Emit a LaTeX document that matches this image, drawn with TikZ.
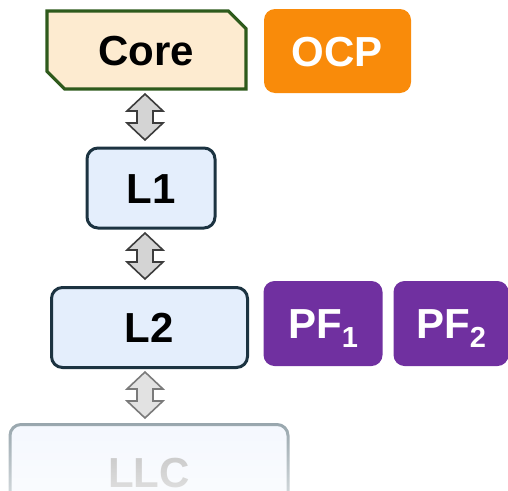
\documentclass[tikz,border=0pt]{standalone}
\usepackage{fontspec}
\setmainfont{Liberation Sans}
\usetikzlibrary{shapes.misc,fadings}

\definecolor{corefill}{HTML}{FDEBD0}
\definecolor{coreline}{HTML}{2E5A1C}
\definecolor{ocpfill}{HTML}{F98B0A}
\definecolor{cachefill}{HTML}{E4EEFC}
\definecolor{cacheline}{HTML}{1C3341}
\definecolor{pffill}{HTML}{7030A0}
\definecolor{llcfill}{HTML}{F3F7FE}
\definecolor{llcline}{HTML}{8A9AA2}
\definecolor{llctext}{HTML}{B0B0B0}
\definecolor{arrfill}{HTML}{D4D4D4}
\definecolor{arrline}{HTML}{3C3C3C}
\definecolor{arrfillpale}{HTML}{E2E2E2}
\definecolor{arrlinepale}{HTML}{7A7A7A}

\tikzfading[name=fadedown, top color=transparent!100, bottom color=transparent!10]

\tikzset{
  label font/.style={font=\bfseries\fontsize{42}{48}\selectfont,
    text height=30pt, text depth=0pt},
  corebox/.style={shape=chamfered rectangle,
    chamfered rectangle corners={north east,south west},
    chamfered rectangle xsep=14pt,
    draw=coreline, fill=corefill, line width=3.2pt,
    minimum width=199pt, minimum height=78pt, inner sep=0pt, label font},
  cachebox/.style={draw=cacheline, fill=cachefill, line width=3pt,
    rounded corners=11pt, inner sep=0pt, label font},
  tagbox/.style={rounded corners=11pt, inner sep=0pt, text=white, label font},
  blockarr/.style={fill=arrfill, draw=arrline, line width=1.6pt, line join=miter},
  blockarrpale/.style={fill=arrfillpale, draw=arrlinepale, line width=1.6pt, line join=miter},
}

% subscript index in the prefetcher labels
\newcommand\pfidx[1]{\raisebox{-9pt}{\fontsize{29}{29}\selectfont #1}}

% up/down block arrow hanging from its top tip
\newcommand\linkarrow[2]{%
  \draw[#1] (#2) -- ++(18,17) -- ++(-10,0) -- ++(0,12) -- ++(10,0)
    -- ++(-18,17) -- ++(-18,-17) -- ++(10,0) -- ++(0,-12) -- ++(-10,0) -- cycle;}

\begin{document}
\begin{tikzpicture}[x=1pt,y=-1pt]
\useasboundingbox (0,0) rectangle (508,490);
\clip (0,0) rectangle (508,490);

% core and its companion unit
\node[corebox] (core) at (146.5,50) {Core};
\node[tagbox, fill=ocpfill, minimum width=147pt, minimum height=84pt] (ocp) at (337.5,51) {OCP};

% private caches
\node[cachebox, minimum width=128pt, minimum height=80pt] (l1) at (151,188) {L1};
\node[cachebox, minimum width=196pt, minimum height=80pt] (l2) at (149.5,327.5) {L2};

% prefetchers beside L2
\node[tagbox, fill=pffill, minimum width=119pt, minimum height=85pt] (pf1) at (323,323.5)
  {PF\pfidx{1}};
\node[tagbox, fill=pffill, minimum width=115pt, minimum height=85pt] (pf2) at (451,323.5)
  {PF\pfidx{2}};

% shared last-level cache, fading out below
\node[cachebox, draw=llcline, fill=llcfill,
      minimum width=278pt, minimum height=120pt, anchor=north] (llc) at (149,423) {};
\node[label font, text=llctext, anchor=base] (llctxt) at (149,487) {LLC};
\fill[white, path fading=fadedown] (0,405) rectangle (300,535);

% links between the levels
\coordinate (a1) at (145,94);
\coordinate (a2) at (145,233);
\coordinate (a3) at (145,372);
\linkarrow{blockarr}{a1}
\linkarrow{blockarr}{a2}
\linkarrow{blockarrpale}{a3}
\end{tikzpicture}
\end{document}
